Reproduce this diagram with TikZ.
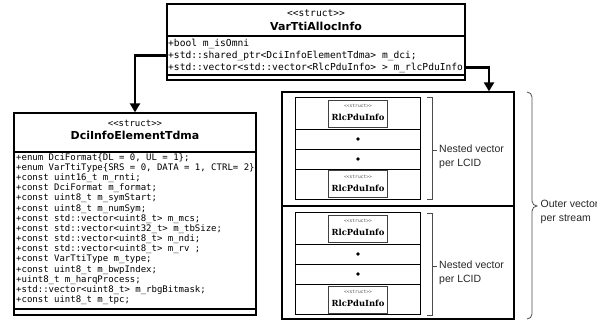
\documentclass[tikz,border=0pt]{standalone}
\usepackage{fontspec}
\setmainfont{DejaVu Sans}
\newfontfamily\monof{DejaVu Sans Mono}
\newfontfamily\arialf{Liberation Sans}
\newfontfamily\serf{DejaVu Serif}
\usetikzlibrary{arrows.meta}
\begin{document}
\begin{tikzpicture}[x=1pt,y=-1pt,
  umlbox/.style={draw, line width=1.3pt, rectangle, inner sep=0pt},
  sep/.style={line width=1.3pt},
  stereo/.style={inner sep=0pt, font=\monof\fontsize{9}{10}\selectfont},
  title/.style={inner sep=0pt, font=\bfseries\fontsize{11}{12}\selectfont},
  attrA/.style={anchor=west, inner sep=0pt, font=\monof\fontsize{9.6}{11}\selectfont},
  attrB/.style={anchor=west, inner sep=0pt, font=\monof\fontsize{9}{10}\selectfont},
  conn/.style={line width=2.6pt, -{Triangle[length=9pt,width=10pt]}},
  vecbox/.style={draw, line width=1pt, rectangle, inner sep=0pt, minimum width=125, minimum height=102},
  rowsep/.style={line width=1pt},
  rlc/.style={draw=black!75, line width=1pt, rectangle, inner sep=0pt, minimum width=59, minimum height=27, fill=white},
  rlcst/.style={inner sep=0pt, text=black!70, font=\monof\fontsize{4.6}{5}\selectfont},
  rlcti/.style={inner sep=0pt, font=\serf\bfseries\fontsize{8.4}{9}\selectfont},
  dotm/.style={circle, fill=black, inner sep=0pt, minimum size=3.6pt},
  brk/.style={draw=black!70, line width=0.8pt},
  lbl/.style={anchor=west, inner sep=0pt, align=left, text=black!85, font=\arialf\fontsize{10.5}{14}\selectfont}
]
\useasboundingbox (0,0) rectangle (597,324);

% ---- VarTtiAllocInfo
\node[umlbox, minimum width=298, minimum height=76] (vt) at (316,42) {};
\draw[sep] (vt.west |- 0,36) -- (vt.east |- 0,36);
\draw[sep] (vt.west |- 0,75) -- (vt.east |- 0,75);
\node[stereo, font=\monof\fontsize{9.6}{10}\selectfont] (vtst) at (316,13) {<<struct>>};
\node[title] (vtti) at (316,26.5) {VarTtiAllocInfo};
\node[attrA] (omni) at (168,43.5) {+bool m\_isOmni};
\node[attrA] (dci) at (168,55.5) {+std::shared\_ptr<DciInfoElementTdma> m\_dci;};
\node[attrA] (rlcv) at (168,67.5) {+std::vector<std::vector<RlcPduInfo> > m\_rlcPduInfo};

% ---- DciInfoElementTdma
\node[umlbox, minimum width=242, minimum height=202] (de) at (135,214) {};
\draw[sep] (de.west |- 0,152) -- (de.east |- 0,152);
\draw[sep] (de.west |- 0,309) -- (de.east |- 0,309);
\node[stereo] (dest) at (135,123) {<<struct>>};
\node[title] (deti) at (135,135.5) {DciInfoElementTdma};
\foreach \t [count=\i from 0] in {
  {+enum DciFormat\{DL = 0, UL = 1\};},
  {+enum VarTtiType\{SRS = 0, DATA = 1, CTRL= 2\}},
  {+const uint16\_t m\_rnti;},
  {+const DciFormat m\_format;},
  {+const uint8\_t m\_symStart;},
  {+const uint8\_t m\_numSym;},
  {+const std::vector<uint8\_t> m\_mcs;},
  {+const std::vector<uint32\_t> m\_tbSize;},
  {+const std::vector<uint8\_t> m\_ndi;},
  {+const std::vector<uint8\_t> m\_rv ;},
  {+const VarTtiType m\_type;},
  {+const uint8\_t m\_bwpIndex;},
  {+uint8\_t m\_harqProcess;},
  {+std::vector<uint8\_t> m\_rbgBitmask;},
  {+const uint8\_t m\_tpc;}}
  \node[attrB] (da\i) at (16,158+\i*10.15) {\t};

% ---- outer vector box
\node[draw, line width=1.3pt, rectangle, inner sep=0pt, minimum width=232, minimum height=227] (outer) at (398,205.5) {};
\draw[sep] (outer.west |- 0,206) -- (outer.east |- 0,206);

% ---- nested vector 1
\node[vecbox] (in1) at (357.5,148) {};
\draw[rowsep] (in1.west |- 0,129) -- (in1.east |- 0,129);
\draw[rowsep] (in1.west |- 0,149) -- (in1.east |- 0,149);
\draw[rowsep] (in1.west |- 0,169) -- (in1.east |- 0,169);
\node[rlc] (r1a) at (358,113.5) {};
\node[rlcst] at (358,106) {<<struct>>};
\node[rlcti] at (358,117.5) {RlcPduInfo};
\node[dotm] (d1a) at (358,139) {};
\node[dotm] (d1b) at (358,159) {};
\node[rlc] (r1b) at (358,184) {};
\node[rlcst] at (358,176.5) {<<struct>>};
\node[rlcti] at (358,188) {RlcPduInfo};

% ---- nested vector 2
\node[vecbox] (in2) at (357.5,263.5) {};
\draw[rowsep] (in2.west |- 0,244) -- (in2.east |- 0,244);
\draw[rowsep] (in2.west |- 0,264) -- (in2.east |- 0,264);
\draw[rowsep] (in2.west |- 0,284) -- (in2.east |- 0,284);
\node[rlc] (r2a) at (358,228.5) {};
\node[rlcst] at (358,221) {<<struct>>};
\node[rlcti] at (358,232.5) {RlcPduInfo};
\node[dotm] (d2a) at (358,254) {};
\node[dotm] (d2b) at (358,274) {};
\node[rlc] (r2b) at (358,299.5) {};
\node[rlcst] at (358,292) {<<struct>>};
\node[rlcti] at (358,303.5) {RlcPduInfo};

% ---- brackets
\draw[brk] (427,97) -- (432,97) -- (432,199) -- (427,199);
\draw[brk] (432,150) -- (437,150);
\node[lbl] (nv1) at (439,156.5) {Nested vector\\per LCID};
\draw[brk] (427,213) -- (432,213) -- (432,315) -- (427,315);
\draw[brk] (432,266) -- (437,266);
\node[lbl] (nv2) at (439,272.5) {Nested vector\\per LCID};

\draw[brk] (527,92) to[out=0,in=90] (532,97) -- (532,201) to[out=-90,in=180] (537,206)
  to[out=180,in=90] (532,211) -- (532,314) to[out=-90,in=0] (527,319);
\node[lbl] (ov) at (540.5,212) {Outer vector\\per stream};

% ---- connectors
\draw[conn] (vt.west |- dci) -| (de.north);
\draw[conn] (vt.east |- rlcv) -| ([xshift=91pt]outer.north);
\end{tikzpicture}
\end{document}
